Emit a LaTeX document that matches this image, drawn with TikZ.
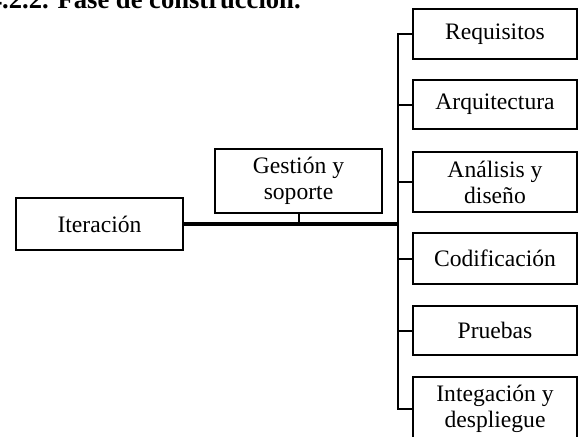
\documentclass[tikz,border=0pt]{standalone}
\usepackage{fontspec}
\setmainfont{Liberation Serif}
\begin{document}
\begin{tikzpicture}[x=0.5pt,y=-0.5pt,
  box/.style={draw=black,line width=1pt,rectangle,inner sep=0pt,align=center,
    font=\fontsize{11.8}{13}\selectfont},
  bus/.style={draw=black,line width=1pt},
  mainline/.style={draw=black,line width=1.6pt}]
\useasboundingbox (0,0) rectangle (578,436);
\clip (0,0) rectangle (578,436);
\node[anchor=base west,inner sep=0pt,font=\fontsize{13.3}{15}\selectfont\bfseries] (title) at (-11.5,8) {4.2.2. Fase de construcción.};
\node[box,minimum width=83.5pt,minimum height=26pt] (iter) at (99.5,224) {Iteración};
\node[box,minimum width=83.5pt,minimum height=32pt] (gest) at (298.5,181) {Gestión y\\soporte};
\node[box,minimum width=82pt,minimum height=25pt] (req) at (495,34) {Requisitos};
\node[box,minimum width=82pt,minimum height=24.5pt] (arq) at (495,104.5) {Arquitectura};
\node[box,minimum width=82pt,minimum height=30pt] (ana) at (495,182) {Análisis y\\diseño};
\node[box,minimum width=82pt,minimum height=25.5pt] (cod) at (495,258.5) {Codificación};
\node[box,minimum width=82pt,minimum height=24.5pt] (pru) at (495,330.5) {Pruebas};
\node[box,minimum width=82pt,minimum height=32pt] (int) at (495,409) {Integación y\\despliegue};
\coordinate (busx) at (398,0);
\draw[bus] (req.west) -- (req.west -| busx) -- (int.west -| busx) -- (int.west);
\draw[bus] (arq.west) -- (arq.west -| busx);
\draw[bus] (ana.west) -- (ana.west -| busx);
\draw[bus] (cod.west) -- (cod.west -| busx);
\draw[bus] (pru.west) -- (pru.west -| busx);
\draw[mainline] (iter.east) -- (iter.east -| busx);
\draw[bus] (gest.south) -- (gest.south |- iter.east);
\end{tikzpicture}
\end{document}
